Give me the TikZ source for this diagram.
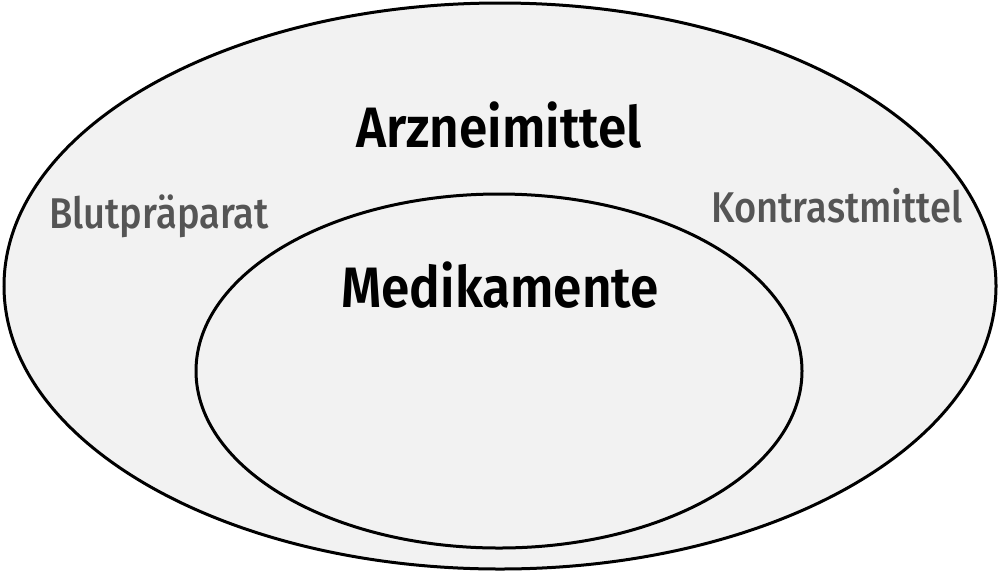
\documentclass[tikz,border=0pt]{standalone}
\usepackage{fontspec}
\setmainfont{Fira Sans}
\newfontfamily\mainfont[FakeStretch=0.90]{Fira Sans SemiBold}
\newfontfamily\sidefont[FakeStretch=0.885]{Fira Sans Medium}
\usepackage{tikz}
\usetikzlibrary{positioning}

\definecolor{setfill}{HTML}{F2F2F2}
\definecolor{labelgray}{HTML}{555555}

\begin{document}
\begin{tikzpicture}[x=1pt,y=-1pt,
  set line/.style={draw=black,line width=3pt,fill=setfill},
  main label/.style={anchor=base,inner sep=0pt,text=black,font=\mainfont\fontsize{57}{60}\selectfont},
  side label/.style={anchor=base,inner sep=0pt,text=labelgray,font=\sidefont\fontsize{43}{46}\selectfont}]
  \useasboundingbox (0,0) rectangle (1000,574);
  % outer and inner sets
  \draw[set line] (500,286) ellipse [x radius=496, y radius=283];
  \draw[set line] (499,371) ellipse [x radius=303, y radius=177];
  \node[main label] (arznei) at (499,147) {Arzneimittel};
  \node[main label] (medi) at (500,307) {Medikamente};
  \node[side label] (blut) at (159,228) {Blutpräparat};
  \node[side label] (kontrast) at (837,222) {Kontrastmittel};
\end{tikzpicture}
\end{document}
